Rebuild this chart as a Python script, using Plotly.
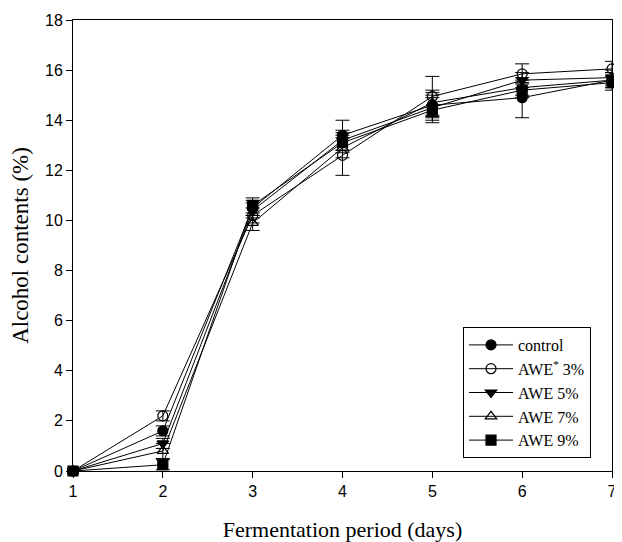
import plotly.graph_objects as go

days = [1, 2, 3, 4, 5, 6, 7]
series_names = ["control", "AWE<sup>*</sup> 3%", "AWE 5%", "AWE 7%", "AWE 9%"]
control = [0, 1.6, 10.5, 13.4, 14.6, 14.9, 15.6]
control_err = [0, 0.2, 0.3, 0.6, 0.5, 0.8, 0.3]
awe3 = [0, 2.2, 10.2, 12.6, 14.95, 15.85, 16.05]
awe3_err = [0, 0.2, 0.3, 0.8, 0.8, 0.4, 0.3]
awe5 = [0, 1.1, 10.4, 13.2, 14.5, 15.6, 15.7]
awe5_err = [0, 0.2, 0.3, 0.4, 0.5, 0.3, 0.3]
awe7 = [0, 0.8, 9.9, 12.9, 14.7, 15.3, 15.6]
awe7_err = [0, 0.3, 0.3, 0.4, 0.5, 0.3, 0.3]
awe9 = [0, 0.25, 10.6, 13.1, 14.4, 15.2, 15.5]
awe9_err = [0, 0.2, 0.3, 0.4, 0.5, 0.3, 0.3]
y_ticks = [0, 2, 4, 6, 8, 10, 12, 14, 16, 18]

values = [control, awe3, awe5, awe7, awe9]
errors = [control_err, awe3_err, awe5_err, awe7_err, awe9_err]
symbols = ["circle", "circle-open", "triangle-down", "triangle-up-open", "square"]

fig = go.Figure()
for name, v, e, s in zip(series_names, values, errors, symbols):
    fig.add_trace(go.Scatter(
        x=days, y=v, name=name, mode="lines+markers",
        line=dict(color="black", width=1),
        marker=dict(symbol=s, size=10, color="black",
                    line=dict(color="black", width=1.2)),
        error_y=dict(type="data", array=e, visible=True, color="black",
                     thickness=1, width=7),
        cliponaxis=False,
    ))

# page body has an 8px default margin, so the figure is sized to fit the window
fig.update_layout(
    width=614, height=534,
    margin=dict(l=65, r=10, t=12, b=71, autoexpand=False),
    plot_bgcolor="white", paper_bgcolor="white",
    showlegend=True,
    legend=dict(x=(463 - 73) / 539, y=(471 - 327) / 451, xanchor="left", yanchor="top",
                bgcolor="white", bordercolor="black", borderwidth=1,
                font=dict(family="Liberation Serif", size=16, color="black"),
                tracegroupgap=0, itemwidth=44),
    xaxis=dict(range=[1, 7], tickvals=days, showgrid=False, zeroline=False,
               showline=True, linecolor="black", linewidth=1, mirror=True,
               ticks="outside", ticklen=6, tickcolor="black", automargin=False,
               ticklabeloverflow="allow",
               tickfont=dict(family="Liberation Sans", size=16, color="black"),
               title=dict(text="Fermentation period (days)", standoff=27,
                          font=dict(family="Liberation Serif", size=22, color="black"))),
    yaxis=dict(range=[0, 18], tickvals=y_ticks, showgrid=False, zeroline=False,
               showline=True, linecolor="black", linewidth=1, mirror=True,
               ticks="outside", ticklen=6, tickcolor="black", automargin=False,
               tickfont=dict(family="Liberation Sans", size=16, color="black"),
               title=dict(text="Alcohol contents (%)", standoff=12,
                          font=dict(family="Liberation Serif", size=23, color="black"))),
)

fig.write_html("out.html")
